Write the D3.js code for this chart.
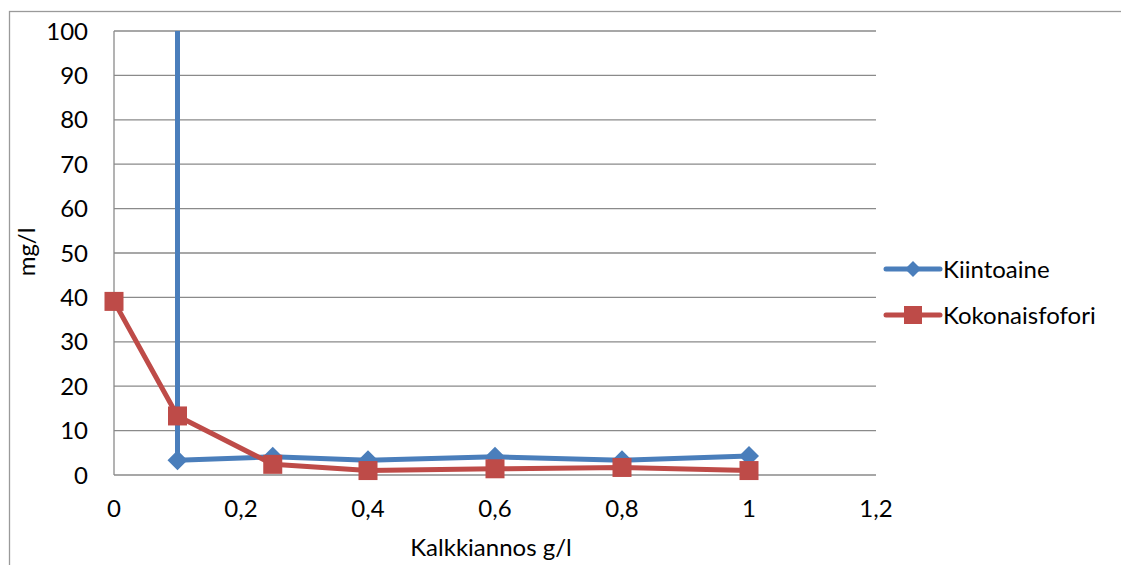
<!DOCTYPE html>
<html><head><meta charset="utf-8">
<script src="https://cdn.jsdelivr.net/npm/d3@7"></script>
<style>html,body{margin:0;padding:0;background:#fff}svg{display:block}</style>
</head><body>
<svg id="c" width="1121" height="565"></svg>
<script>
const xTicks = [0, 0.2, 0.4, 0.6, 0.8, 1, 1.2];
const yTicks = [0, 10, 20, 30, 40, 50, 60, 70, 80, 90, 100];
const seriesNames = ["Kiintoaine", "Kokonaisfofori"];
const kiintoaineX = [0.1, 0.1, 0.25, 0.4, 0.6, 0.8, 1];
const kiintoaineY = [250, 3.3, 4.1, 3.3, 4.1, 3.3, 4.3];
const fosforiX = [0, 0.1, 0.25, 0.4, 0.6, 0.8, 1];
const fosforiY = [39.1, 13.3, 2.4, 1.0, 1.4, 1.7, 1.0];
const colors = ["#4A7EBB", "#BE4B48"];
const xTitle = "Kalkkiannos g/l";
const yTitle = "mg/l";

const font = "Lato, 'Open Sans', sans-serif";
const fs = 24;
const svg = d3.select("#c");
const L = 114, R = 876, T = 31, B = 475;
const x = d3.scaleLinear().domain([0, 1.2]).range([L, R]);
const y = d3.scaleLinear().domain([0, 100]).range([B, T]);
const fmt = d => String(d).replace(".", ",");

// outer border
svg.append("rect").attr("x", 9.5).attr("y", 11.5).attr("width", 1130).attr("height", 600)
  .attr("fill", "none").attr("stroke", "#9a9a9a").attr("stroke-width", 1.3);

// gridlines
svg.append("g").selectAll("line").data(yTicks).join("line")
  .attr("x1", L).attr("x2", R).attr("y1", d => y(d)).attr("y2", d => y(d))
  .attr("stroke", "#8a8a8a").attr("stroke-width", 1.3);
// y axis line
svg.append("line").attr("x1", L).attr("x2", L).attr("y1", T).attr("y2", B)
  .attr("stroke", "#8a8a8a").attr("stroke-width", 1.3);

// y tick labels
svg.append("g").selectAll("text").data(yTicks).join("text")
  .attr("x", 88).attr("y", d => y(d)).attr("dy", "0.36em")
  .attr("text-anchor", "end").attr("font-family", font).attr("font-size", fs)
  .attr("fill", "#000").text(d => d);
// x tick labels
svg.append("g").selectAll("text").data(xTicks).join("text")
  .attr("x", d => x(d)).attr("y", 517)
  .attr("text-anchor", "middle").attr("font-family", font).attr("font-size", fs)
  .attr("fill", "#000").text(fmt);

// titles
svg.append("text").attr("x", 491).attr("y", 556).attr("text-anchor", "middle")
  .attr("font-family", font).attr("font-size", fs).text(xTitle);
svg.append("text").attr("transform", "translate(35,252) rotate(-90)").attr("text-anchor", "middle")
  .attr("font-family", font).attr("font-size", fs).text(yTitle);

// clip
svg.append("clipPath").attr("id", "clip").append("rect")
  .attr("x", L - 30).attr("y", T).attr("width", R - L + 60).attr("height", B - T + 40);

const line = d3.line().x(d => x(d[0])).y(d => y(d[1]));
const kData = kiintoaineX.map((v, i) => [v, kiintoaineY[i]]);
const fData = fosforiX.map((v, i) => [v, fosforiY[i]]);

const plot = svg.append("g").attr("clip-path", "url(#clip)");
const diamond = s => `M0,${-s}L${s},0L0,${s}L${-s},0Z`;

plot.append("path").datum(kData).attr("d", line).attr("fill", "none")
  .attr("stroke", colors[0]).attr("stroke-width", 5).attr("stroke-linejoin", "round");
plot.append("g").selectAll("path").data(kData.filter(d => d[1] <= 100)).join("path")
  .attr("transform", d => `translate(${x(d[0])},${y(d[1])})`)
  .attr("d", diamond(10)).attr("fill", colors[0]);

plot.append("path").datum(fData).attr("d", line).attr("fill", "none")
  .attr("stroke", colors[1]).attr("stroke-width", 5).attr("stroke-linejoin", "round");
plot.append("g").selectAll("rect").data(fData).join("rect")
  .attr("x", d => x(d[0]) - 9.5).attr("y", d => y(d[1]) - 9.5).attr("width", 19).attr("height", 19)
  .attr("fill", colors[1]);

// legend
const lg = svg.append("g");
const legY = [269, 315];
seriesNames.forEach((n, i) => {
  lg.append("line").attr("x1", 886).attr("x2", 940).attr("y1", legY[i]).attr("y2", legY[i])
    .attr("stroke", colors[i]).attr("stroke-width", 5).attr("stroke-linecap", "round");
  if (i === 0) lg.append("path").attr("transform", `translate(913,${legY[i]})`).attr("d", diamond(8)).attr("fill", colors[i]);
  else lg.append("rect").attr("x", 904).attr("y", legY[i] - 9).attr("width", 18).attr("height", 18).attr("fill", colors[i]);
  lg.append("text").attr("x", 943).attr("y", legY[i]).attr("dy", "0.36em")
    .attr("font-family", font).attr("font-size", fs).text(n);
});
</script>
</body></html>
